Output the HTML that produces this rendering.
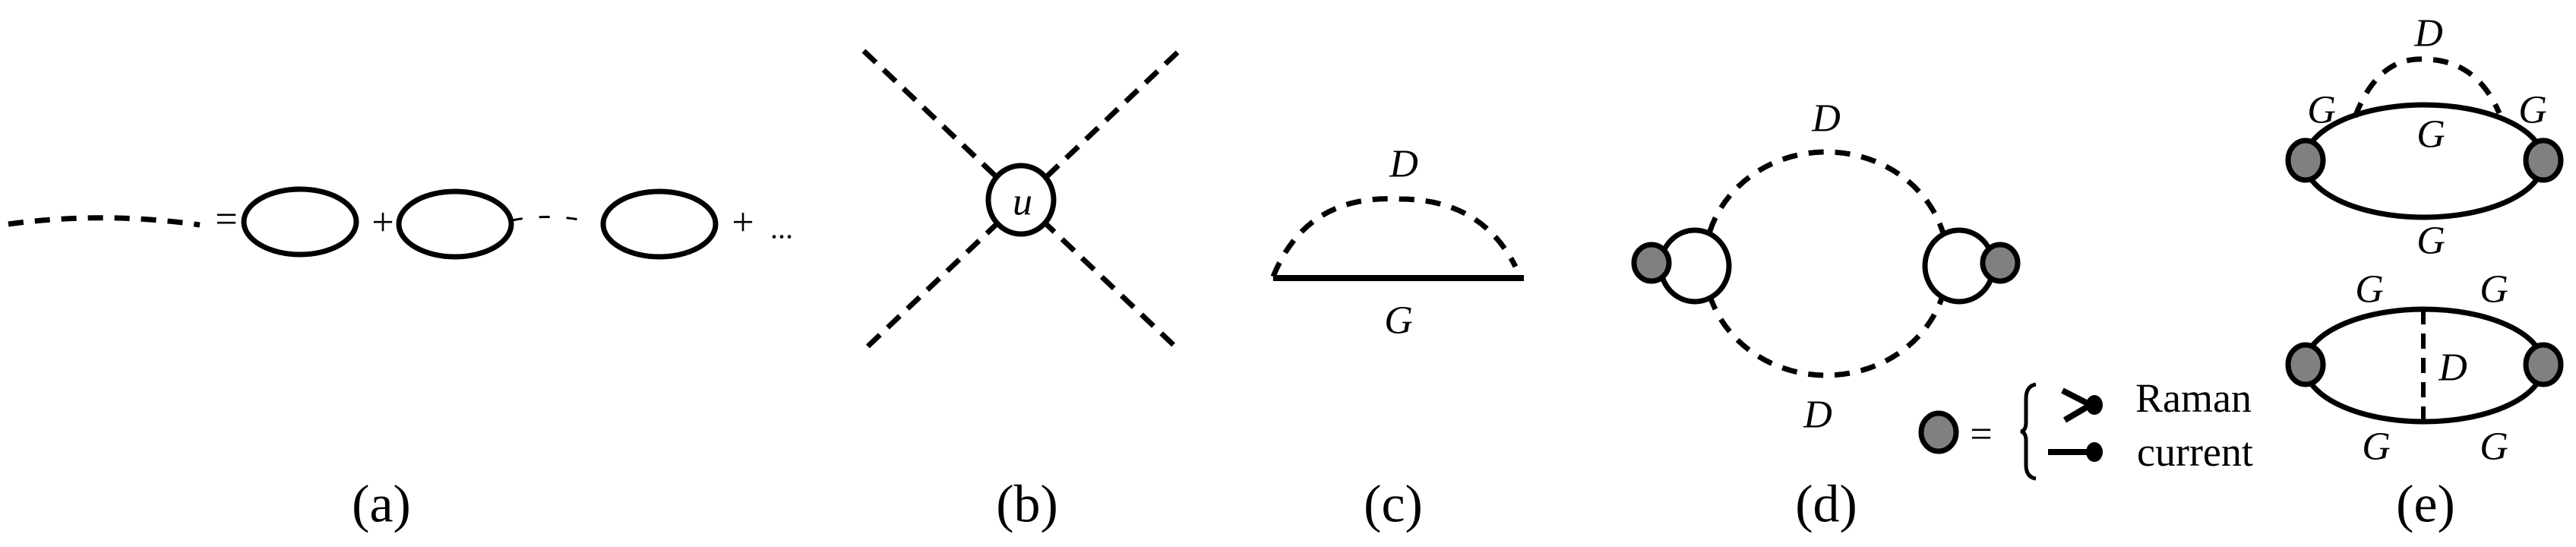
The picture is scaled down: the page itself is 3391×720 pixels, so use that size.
<!DOCTYPE html>
<html><head><meta charset="utf-8"><style>
html,body{margin:0;padding:0;background:#fff;}
svg{display:block}
</style></head><body>
<svg width="3391" height="720" viewBox="0 0 3391 720" xmlns="http://www.w3.org/2000/svg">
<g fill="none" stroke="#000" stroke-width="7">
<!-- (a) -->
<path d="M11,295 Q137,278 263,296" stroke-dasharray="20,15" stroke-width="7"/>
<ellipse cx="395" cy="292" rx="74" ry="43"/>
<ellipse cx="599" cy="295" rx="74" ry="43"/>
<path d="M674,290 Q725,280 777,292" stroke-width="3" stroke-dasharray="14,22"/>
<ellipse cx="868" cy="295" rx="74" ry="43"/>
<!-- (b) -->
<line x1="1137" y1="67" x2="1550" y2="459" stroke-dasharray="22,14"/>
<line x1="1550" y1="69" x2="1137" y2="461" stroke-dasharray="22,14"/>
<ellipse cx="1344" cy="263" rx="43" ry="45" fill="#fff"/>
<!-- (c) -->
<path d="M1676,364 Q1720,255 1843,262 Q1950,262 1995,351" stroke-dasharray="20,15"/>
<line x1="1676" y1="366" x2="2006" y2="366" stroke-width="8"/>
<!-- (d) -->
<ellipse cx="2404" cy="347" rx="160" ry="147" stroke-dasharray="20,15"/>
<ellipse cx="2231" cy="350" rx="45" ry="47" fill="#fff"/>
<ellipse cx="2579" cy="350" rx="45" ry="47" fill="#fff"/>
<ellipse cx="2174" cy="346" rx="23" ry="24" fill="#808080"/>
<ellipse cx="2633" cy="346" rx="23" ry="24" fill="#808080"/>
<!-- legend -->
<ellipse cx="2552" cy="569" rx="23" ry="25" fill="#808080"/>
<path d="M2680,506 Q2667,508 2667,525 L2667,556 Q2667,567 2660,568 Q2667,569 2667,580 L2667,612 Q2667,628 2680,630" stroke-width="5"/>
<path d="M2715,514 L2752,533 L2718,553" stroke-width="8"/>
<line x1="2696" y1="595" x2="2752" y2="595" stroke-width="8"/>
<!-- (e) top -->
<path d="M3100,154 Q3130,75 3190,78 Q3260,78 3290,149" stroke-dasharray="20,15"/>
<ellipse cx="3191" cy="212" rx="157" ry="74"/>
<ellipse cx="3035" cy="211" rx="23" ry="26" fill="#808080"/>
<ellipse cx="3348" cy="211" rx="23" ry="26" fill="#808080"/>
<!-- (e) bottom -->
<ellipse cx="3191" cy="481" rx="157" ry="74"/>
<line x1="3190" y1="407" x2="3190" y2="555" stroke-dasharray="20,12" stroke-width="6"/>
<ellipse cx="3035" cy="480" rx="23" ry="26" fill="#808080"/>
<ellipse cx="3348" cy="480" rx="23" ry="26" fill="#808080"/>
</g>
<g fill="#000">
<ellipse cx="2757" cy="533" rx="11" ry="13"/>
<ellipse cx="2757" cy="595" rx="11" ry="13"/>
</g>
<g text-anchor="middle" dominant-baseline="central" font-family="Liberation Serif, serif" fill="#000">
<text x="298" y="289" font-size="52">=</text>
<text x="504" y="293" font-size="52">+</text>
<text x="978" y="293" font-size="52">+</text>
<text x="1029" y="300" font-size="40">...</text>
<g font-style="italic" font-size="52">
<text x="1346" y="266">u</text>
<text x="1848" y="216">D</text>
<text x="1841" y="422">G</text>
<text x="2404" y="156">D</text>
<text x="2393" y="546">D</text>
<text x="3197" y="44">D</text>
<text x="3056" y="145">G</text>
<text x="3334" y="145">G</text>
<text x="3200" y="177">G</text>
<text x="3200" y="317">G</text>
<text x="3119" y="381">G</text>
<text x="3283" y="381">G</text>
<text x="3229" y="484">D</text>
<text x="3128" y="588">G</text>
<text x="3283" y="588">G</text>
</g>
<text x="2608" y="572" font-size="52">=</text>
<g font-size="70">
<text x="502" y="664">(a)</text>
<text x="1352" y="664">(b)</text>
<text x="1834" y="664">(c)</text>
<text x="2404" y="664">(d)</text>
<text x="3193" y="664">(e)</text>
</g>
</g>
<g font-family="Liberation Serif, serif" font-size="54" fill="#000">
<text x="2811" y="542">Raman</text>
<text x="2813" y="613">current</text>
</g>
</svg>
</body></html>
